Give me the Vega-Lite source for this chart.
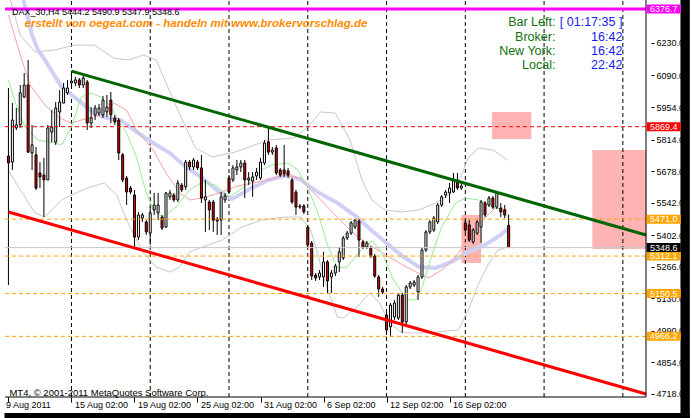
{
  "$schema": "https://vega.github.io/schema/vega-lite/v6.json",
  "width": 651,
  "height": 397,
  "autosize": {"type": "none"},
  "padding": {"left": 0, "top": 0, "right": 41, "bottom": 21},
  "background": "white",
  "config": {
    "view": {"stroke": null, "fill": "white"},
    "font": "Liberation Sans",
    "axis": {"labelFont": "Liberation Sans", "labelFontSize": 9, "labelColor": "black", "tickColor": "black", "domain": false, "grid": false, "labelOverlap": false, "labelSeparation": 0}
  },
  "datasets": {
    "candles": [
      {"i":0,"o":5743,"h":6036,"l":5187,"c":5713},
      {"i":1,"o":5717,"h":5972,"l":5683,"c":5898},
      {"i":2,"o":5864,"h":5950,"l":5855,"c":5877},
      {"i":3,"o":5877,"h":6049,"l":5864,"c":6015},
      {"i":4,"o":5997,"h":6101,"l":5993,"c":6049},
      {"i":5,"o":6049,"h":6157,"l":5756,"c":5760},
      {"i":6,"o":5756,"h":5877,"l":5683,"c":5791},
      {"i":7,"o":5748,"h":5782,"l":5597,"c":5605},
      {"i":8,"o":5670,"h":5717,"l":5605,"c":5653},
      {"i":9,"o":5661,"h":5735,"l":5480,"c":5640},
      {"i":10,"o":5640,"h":5877,"l":5640,"c":5864},
      {"i":11,"o":5846,"h":5941,"l":5803,"c":5868},
      {"i":12,"o":5803,"h":5976,"l":5791,"c":5950},
      {"i":13,"o":5933,"h":6027,"l":5868,"c":5976},
      {"i":14,"o":5971,"h":6058,"l":5971,"c":6036},
      {"i":15,"o":6015,"h":6071,"l":6006,"c":6036},
      {"i":16,"o":6058,"h":6109,"l":6049,"c":6066},
      {"i":17,"o":6058,"h":6084,"l":6045,"c":6071},
      {"i":18,"o":6071,"h":6079,"l":6036,"c":6049},
      {"i":19,"o":6049,"h":6088,"l":6036,"c":6079},
      {"i":20,"o":6062,"h":6071,"l":5855,"c":5885},
      {"i":21,"o":5885,"h":5954,"l":5864,"c":5907},
      {"i":22,"o":5920,"h":5963,"l":5898,"c":5950},
      {"i":23,"o":5928,"h":5967,"l":5916,"c":5950},
      {"i":24,"o":5920,"h":6002,"l":5907,"c":5984},
      {"i":25,"o":5933,"h":6006,"l":5911,"c":5954},
      {"i":26,"o":5984,"h":6019,"l":5885,"c":5920},
      {"i":27,"o":5907,"h":5920,"l":5877,"c":5890},
      {"i":28,"o":5898,"h":5907,"l":5726,"c":5756},
      {"i":29,"o":5748,"h":5756,"l":5631,"c":5640},
      {"i":30,"o":5648,"h":5657,"l":5532,"c":5588},
      {"i":31,"o":5605,"h":5614,"l":5579,"c":5588},
      {"i":32,"o":5575,"h":5597,"l":5351,"c":5394},
      {"i":33,"o":5394,"h":5502,"l":5381,"c":5489},
      {"i":34,"o":5476,"h":5498,"l":5459,"c":5489},
      {"i":35,"o":5459,"h":5467,"l":5403,"c":5416},
      {"i":36,"o":5411,"h":5523,"l":5360,"c":5498},
      {"i":37,"o":5511,"h":5584,"l":5489,"c":5532},
      {"i":38,"o":5498,"h":5584,"l":5467,"c":5532},
      {"i":39,"o":5480,"h":5489,"l":5424,"c":5433},
      {"i":40,"o":5437,"h":5588,"l":5433,"c":5584},
      {"i":41,"o":5567,"h":5597,"l":5554,"c":5584},
      {"i":42,"o":5575,"h":5584,"l":5545,"c":5554},
      {"i":43,"o":5554,"h":5640,"l":5545,"c":5627},
      {"i":44,"o":5618,"h":5627,"l":5588,"c":5597},
      {"i":45,"o":5610,"h":5726,"l":5597,"c":5717},
      {"i":46,"o":5717,"h":5726,"l":5683,"c":5696},
      {"i":47,"o":5696,"h":5735,"l":5683,"c":5726},
      {"i":48,"o":5717,"h":5726,"l":5683,"c":5692},
      {"i":49,"o":5692,"h":5748,"l":5541,"c":5562},
      {"i":50,"o":5554,"h":5640,"l":5416,"c":5567},
      {"i":51,"o":5545,"h":5554,"l":5424,"c":5511},
      {"i":52,"o":5545,"h":5554,"l":5416,"c":5467},
      {"i":53,"o":5472,"h":5480,"l":5403,"c":5463},
      {"i":54,"o":5467,"h":5588,"l":5403,"c":5567},
      {"i":55,"o":5554,"h":5584,"l":5541,"c":5571},
      {"i":56,"o":5648,"h":5661,"l":5584,"c":5588},
      {"i":57,"o":5640,"h":5704,"l":5631,"c":5692},
      {"i":58,"o":5683,"h":5726,"l":5661,"c":5696},
      {"i":59,"o":5696,"h":5726,"l":5674,"c":5713},
      {"i":60,"o":5713,"h":5726,"l":5562,"c":5640},
      {"i":61,"o":5640,"h":5674,"l":5618,"c":5648},
      {"i":62,"o":5635,"h":5674,"l":5567,"c":5653},
      {"i":63,"o":5657,"h":5692,"l":5640,"c":5674},
      {"i":64,"o":5648,"h":5735,"l":5640,"c":5717},
      {"i":65,"o":5713,"h":5812,"l":5704,"c":5799},
      {"i":66,"o":5804,"h":5868,"l":5748,"c":5760},
      {"i":67,"o":5760,"h":5782,"l":5748,"c":5769},
      {"i":68,"o":5778,"h":5791,"l":5661,"c":5670},
      {"i":69,"o":5683,"h":5691,"l":5653,"c":5661},
      {"i":70,"o":5683,"h":5791,"l":5653,"c":5666},
      {"i":71,"o":5679,"h":5691,"l":5648,"c":5661},
      {"i":72,"o":5640,"h":5648,"l":5536,"c":5545},
      {"i":73,"o":5588,"h":5597,"l":5489,"c":5523},
      {"i":74,"o":5523,"h":5536,"l":5515,"c":5528},
      {"i":75,"o":5528,"h":5536,"l":5493,"c":5502},
      {"i":76,"o":5437,"h":5446,"l":5351,"c":5360},
      {"i":77,"o":5368,"h":5377,"l":5209,"c":5226},
      {"i":78,"o":5230,"h":5239,"l":5205,"c":5218},
      {"i":79,"o":5222,"h":5252,"l":5209,"c":5239},
      {"i":80,"o":5222,"h":5330,"l":5179,"c":5287},
      {"i":81,"o":5287,"h":5295,"l":5153,"c":5205},
      {"i":82,"o":5222,"h":5252,"l":5153,"c":5239},
      {"i":83,"o":5239,"h":5278,"l":5226,"c":5269},
      {"i":84,"o":5287,"h":5351,"l":5243,"c":5330},
      {"i":85,"o":5304,"h":5399,"l":5295,"c":5390},
      {"i":86,"o":5390,"h":5420,"l":5381,"c":5411},
      {"i":87,"o":5411,"h":5463,"l":5403,"c":5455},
      {"i":88,"o":5437,"h":5472,"l":5429,"c":5467},
      {"i":89,"o":5463,"h":5472,"l":5308,"c":5381},
      {"i":90,"o":5373,"h":5381,"l":5343,"c":5351},
      {"i":91,"o":5351,"h":5377,"l":5343,"c":5368},
      {"i":92,"o":5347,"h":5355,"l":5304,"c":5312},
      {"i":93,"o":5312,"h":5321,"l":5218,"c":5226},
      {"i":94,"o":5222,"h":5231,"l":5136,"c":5170},
      {"i":95,"o":5170,"h":5179,"l":5149,"c":5157},
      {"i":96,"o":5058,"h":5067,"l":4972,"c":4994},
      {"i":97,"o":5007,"h":5110,"l":4963,"c":5101},
      {"i":98,"o":5050,"h":5123,"l":5037,"c":5110},
      {"i":99,"o":5045,"h":5153,"l":5037,"c":5144},
      {"i":100,"o":5144,"h":5153,"l":4981,"c":5028},
      {"i":101,"o":5028,"h":5187,"l":5019,"c":5179},
      {"i":102,"o":5179,"h":5205,"l":5170,"c":5196},
      {"i":103,"o":5187,"h":5209,"l":5179,"c":5200},
      {"i":104,"o":5157,"h":5231,"l":5123,"c":5222},
      {"i":105,"o":5222,"h":5347,"l":5213,"c":5338},
      {"i":106,"o":5338,"h":5424,"l":5330,"c":5416},
      {"i":107,"o":5416,"h":5467,"l":5407,"c":5459},
      {"i":108,"o":5424,"h":5485,"l":5416,"c":5476},
      {"i":109,"o":5459,"h":5541,"l":5450,"c":5532},
      {"i":110,"o":5532,"h":5575,"l":5523,"c":5567},
      {"i":111,"o":5575,"h":5597,"l":5562,"c":5588},
      {"i":112,"o":5584,"h":5627,"l":5541,"c":5605},
      {"i":113,"o":5588,"h":5670,"l":5584,"c":5640},
      {"i":114,"o":5640,"h":5670,"l":5597,"c":5605},
      {"i":115,"o":5605,"h":5623,"l":5597,"c":5614},
      {"i":116,"o":5455,"h":5467,"l":5416,"c":5424},
      {"i":117,"o":5446,"h":5467,"l":5373,"c":5381},
      {"i":118,"o":5373,"h":5433,"l":5364,"c":5424},
      {"i":119,"o":5411,"h":5467,"l":5403,"c":5459},
      {"i":120,"o":5437,"h":5554,"l":5368,"c":5545},
      {"i":121,"o":5541,"h":5549,"l":5480,"c":5489},
      {"i":122,"o":5532,"h":5571,"l":5523,"c":5562},
      {"i":123,"o":5562,"h":5571,"l":5515,"c":5523},
      {"i":124,"o":5523,"h":5592,"l":5515,"c":5584},
      {"i":125,"o":5519,"h":5541,"l":5480,"c":5502},
      {"i":126,"o":5511,"h":5532,"l":5476,"c":5489},
      {"i":127,"o":5444.2,"h":5490.9,"l":5347.9,"c":5348.6}
    ],
    "ind": [
      {"s":"bl","i":3.75,"p":6415},{"s":"bl","i":4.5,"p":6372},{"s":"bl","i":6,"p":6264},{"s":"bl","i":7.5,"p":6200},{"s":"bl","i":9.25,"p":6157},{"s":"bl","i":13.5,"p":6040},{"s":"bl","i":16.75,"p":5997},{"s":"bl","i":21.75,"p":5928},{"s":"bl","i":25,"p":5907},{"s":"bl","i":28.5,"p":5898},{"s":"bl","i":32.5,"p":5847},{"s":"bl","i":36.75,"p":5799},{"s":"bl","i":41,"p":5756},{"s":"bl","i":45,"p":5696},{"s":"bl","i":49.25,"p":5648},{"s":"bl","i":53.5,"p":5588},{"s":"bl","i":56.75,"p":5558},{"s":"bl","i":61.75,"p":5605},{"s":"bl","i":66,"p":5640},{"s":"bl","i":71,"p":5661},{"s":"bl","i":74.25,"p":5640},{"s":"bl","i":78.5,"p":5588},{"s":"bl","i":83.5,"p":5541},{"s":"bl","i":88.5,"p":5480},{"s":"bl","i":91.75,"p":5429},{"s":"bl","i":96,"p":5368},{"s":"bl","i":100,"p":5312},{"s":"bl","i":104.25,"p":5265},{"s":"bl","i":108.5,"p":5261},{"s":"bl","i":112.5,"p":5287},{"s":"bl","i":116.75,"p":5330},{"s":"bl","i":121,"p":5360},{"s":"bl","i":125,"p":5403},{"s":"bl","i":127,"p":5433},
      {"s":"pk","i":0,"p":6351},{"s":"pk","i":3,"p":6178},{"s":"pk","i":5.5,"p":6049},{"s":"pk","i":9.25,"p":5963},{"s":"pk","i":13,"p":5907},{"s":"pk","i":16,"p":5885},{"s":"pk","i":18.5,"p":5898},{"s":"pk","i":23.5,"p":5920},{"s":"pk","i":26.75,"p":5971},{"s":"pk","i":30,"p":5941},{"s":"pk","i":32.5,"p":5855},{"s":"pk","i":36.75,"p":5769},{"s":"pk","i":40,"p":5670},{"s":"pk","i":43.5,"p":5584},{"s":"pk","i":46,"p":5554},{"s":"pk","i":49.25,"p":5562},{"s":"pk","i":54.25,"p":5588},{"s":"pk","i":57.5,"p":5610},{"s":"pk","i":61.75,"p":5627},{"s":"pk","i":66,"p":5640},{"s":"pk","i":70,"p":5661},{"s":"pk","i":74.25,"p":5648},{"s":"pk","i":76.75,"p":5597},{"s":"pk","i":80,"p":5541},{"s":"pk","i":84.25,"p":5467},{"s":"pk","i":87.5,"p":5411},{"s":"pk","i":91,"p":5368},{"s":"pk","i":95,"p":5325},{"s":"pk","i":99.25,"p":5282},{"s":"pk","i":103.5,"p":5243},{"s":"pk","i":106.75,"p":5218},{"s":"pk","i":110,"p":5252},{"s":"pk","i":113.5,"p":5308},{"s":"pk","i":116,"p":5368},{"s":"pk","i":119.25,"p":5446},{"s":"pk","i":123.5,"p":5519},{"s":"pk","i":126.75,"p":5511},
      {"s":"gr","i":0,"p":6071},{"s":"gr","i":1.75,"p":5972},{"s":"gr","i":4.25,"p":5868},{"s":"gr","i":7.5,"p":5812},{"s":"gr","i":11.75,"p":5799},{"s":"gr","i":13.5,"p":5791},{"s":"gr","i":16,"p":5868},{"s":"gr","i":18.5,"p":5997},{"s":"gr","i":21,"p":6015},{"s":"gr","i":23.5,"p":5997},{"s":"gr","i":26,"p":5954},{"s":"gr","i":27.5,"p":5911},{"s":"gr","i":30,"p":5842},{"s":"gr","i":32.5,"p":5739},{"s":"gr","i":35,"p":5584},{"s":"gr","i":36.75,"p":5511},{"s":"gr","i":39.25,"p":5480},{"s":"gr","i":42.5,"p":5523},{"s":"gr","i":46,"p":5597},{"s":"gr","i":49.25,"p":5631},{"s":"gr","i":52.5,"p":5618},{"s":"gr","i":56,"p":5567},{"s":"gr","i":60,"p":5610},{"s":"gr","i":64.25,"p":5683},{"s":"gr","i":66.75,"p":5704},{"s":"gr","i":71,"p":5713},{"s":"gr","i":73.5,"p":5683},{"s":"gr","i":76,"p":5605},{"s":"gr","i":78.5,"p":5502},{"s":"gr","i":81,"p":5360},{"s":"gr","i":83.5,"p":5261},{"s":"gr","i":86,"p":5265},{"s":"gr","i":88.5,"p":5317},{"s":"gr","i":91,"p":5364},{"s":"gr","i":92.5,"p":5377},{"s":"gr","i":95,"p":5321},{"s":"gr","i":97.5,"p":5218},{"s":"gr","i":100,"p":5153},{"s":"gr","i":101.75,"p":5123},{"s":"gr","i":103.5,"p":5123},{"s":"gr","i":105,"p":5175},{"s":"gr","i":107.5,"p":5317},{"s":"gr","i":110,"p":5437},{"s":"gr","i":113.5,"p":5541},{"s":"gr","i":116,"p":5562},{"s":"gr","i":119.25,"p":5554},{"s":"gr","i":121.75,"p":5532},{"s":"gr","i":125,"p":5511},{"s":"gr","i":127,"p":5476},
      {"s":"bbu","i":0.5,"p":6415},{"s":"bbu","i":3,"p":6264},{"s":"bbu","i":6.75,"p":6191},{"s":"bbu","i":11.75,"p":6200},{"s":"bbu","i":16.75,"p":6221},{"s":"bbu","i":21.75,"p":6221},{"s":"bbu","i":26.75,"p":6165},{"s":"bbu","i":30.5,"p":6157},{"s":"bbu","i":34.25,"p":6178},{"s":"bbu","i":37.5,"p":6157},{"s":"bbu","i":43,"p":5941},{"s":"bbu","i":47.5,"p":5778},{"s":"bbu","i":51.75,"p":5739},{"s":"bbu","i":57.5,"p":5760},{"s":"bbu","i":66,"p":5812},{"s":"bbu","i":72.5,"p":5821},{"s":"bbu","i":76,"p":5868},{"s":"bbu","i":79.25,"p":5933},{"s":"bbu","i":83,"p":5928},{"s":"bbu","i":86.75,"p":5812},{"s":"bbu","i":89.75,"p":5640},{"s":"bbu","i":92.25,"p":5554},{"s":"bbu","i":95.5,"p":5511},{"s":"bbu","i":100,"p":5502},{"s":"bbu","i":104.25,"p":5511},{"s":"bbu","i":108.5,"p":5541},{"s":"bbu","i":112.5,"p":5584},{"s":"bbu","i":114.75,"p":5648},{"s":"bbu","i":116.75,"p":5735},{"s":"bbu","i":119.25,"p":5778},{"s":"bbu","i":123,"p":5769},{"s":"bbu","i":126.75,"p":5726},
      {"s":"bbl","i":0,"p":5683},{"s":"bbl","i":2.5,"p":5610},{"s":"bbl","i":6.75,"p":5498},{"s":"bbl","i":9.25,"p":5480},{"s":"bbl","i":13.5,"p":5554},{"s":"bbl","i":16,"p":5575},{"s":"bbl","i":20,"p":5605},{"s":"bbl","i":24.25,"p":5627},{"s":"bbl","i":27.5,"p":5575},{"s":"bbl","i":30,"p":5467},{"s":"bbl","i":34.25,"p":5325},{"s":"bbl","i":37.5,"p":5265},{"s":"bbl","i":41,"p":5243},{"s":"bbl","i":43.5,"p":5265},{"s":"bbl","i":46,"p":5330},{"s":"bbl","i":49.25,"p":5351},{"s":"bbl","i":54.25,"p":5381},{"s":"bbl","i":59.25,"p":5437},{"s":"bbl","i":64.25,"p":5467},{"s":"bbl","i":70,"p":5480},{"s":"bbl","i":74.25,"p":5480},{"s":"bbl","i":76.75,"p":5424},{"s":"bbl","i":78.5,"p":5325},{"s":"bbl","i":80,"p":5222},{"s":"bbl","i":81.75,"p":5136},{"s":"bbl","i":83.5,"p":5050},{"s":"bbl","i":85,"p":5045},{"s":"bbl","i":88.5,"p":5093},{"s":"bbl","i":91.75,"p":5153},{"s":"bbl","i":94.25,"p":5110},{"s":"bbl","i":96.75,"p":5024},{"s":"bbl","i":100,"p":4981},{"s":"bbl","i":103.5,"p":4981},{"s":"bbl","i":106.75,"p":4981},{"s":"bbl","i":114.25,"p":4994},{"s":"bbl","i":116.75,"p":5080},{"s":"bbl","i":119.25,"p":5188},{"s":"bbl","i":121.75,"p":5274},{"s":"bbl","i":124.25,"p":5338},{"s":"bbl","i":126.75,"p":5351}
    ],
    "boxes": [
      {"p":6376.7,"t":"6376.7","k":"mag"},{"p":5869.4,"t":"5869.4","k":"red"},{"p":5471.0,"t":"5471.0","k":"org"},
      {"p":5348.6,"t":"5348.6","k":"blk"},{"p":5312.1,"t":"5312.1","k":"org"},{"p":5150.5,"t":"5150.5","k":"org"},{"p":4966.2,"t":"4966.2","k":"org"}
    ]
  },
  "layer": [
    {
      "data": {"values": [{"i1": 170.625, "i2": 173, "p1": 6430, "p2": 4600}, {"i1": -1, "i2": 173, "p1": 4636, "p2": 4600}]},
      "mark": {"type": "rect", "color": "black", "clip": false},
      "encoding": {
        "x": {"field": "i1", "type": "quantitative", "title": null, "scale": {"type": "linear", "domain": [-0.875, 161.875], "nice": false, "zero": false},
          "axis": {"orient": "bottom", "zindex": 0, "tickCount": 20, "values": [0,16,32,48,64,80,96,112], "labelExpr": "['9 Aug 2011','15 Aug 02:00','19 Aug 02:00','25 Aug 02:00','31 Aug 02:00','6 Sep 02:00','12 Sep 02:00','16 Sep 02:00'][round(datum.value/16)]", "labelAlign": "left", "labelBaseline": "top", "labelOffset": {"condition": {"test": "datum.value == 0", "value": -3}, "value": 3}, "tickSize": 5, "labelPadding": -2, "labelFlush": false, "labelOverlap": false, "labelColor": "black", "tickColor": "black", "title": null, "grid": false, "domain": false}},
        "x2": {"field": "i2"},
        "y": {"field": "p1", "type": "quantitative", "title": null, "scale": {"type": "linear", "domain": [4704.9, 6415.2], "nice": false, "zero": false},
          "axis": {"orient": "right", "zindex": 0, "tickCount": 30, "values": [6230,6090,5954,5814,5678,5542,5402,5266,5130,4990,4854,4718], "format": ".1f", "tickSize": 3, "labelPadding": 2, "labelFlush": false, "labelOverlap": false, "labelColor": "black", "tickColor": "black", "title": null, "grid": false, "domain": false}},
        "y2": {"field": "p2"}
      }
    },
    {
      "data": {"values": [
        {"i1":122.75,"i2":132.75,"p1":5933,"p2":5816},
        {"i1":148.25,"i2":162,"p1":5769,"p2":5343},
        {"i1":115,"i2":120,"p1":5489,"p2":5282}
      ]},
      "mark": {"type": "rect", "color": "#ffb4b4"},
      "encoding": {
        "x": {"field": "i1", "type": "quantitative", "title": null},
        "x2": {"field": "i2"},
        "y": {"field": "p1", "type": "quantitative", "title": null},
        "y2": {"field": "p2"}
      }
    },
    {
      "data": {"values": [{"i":16},{"i":36},{"i":56},{"i":76},{"i":96},{"i":116},{"i":136},{"i":156}]},
      "mark": {"type": "rule", "color": "black", "strokeWidth": 1, "strokeDash": [4, 3]},
      "encoding": {
        "x": {"field": "i", "type": "quantitative", "title": null},
        "y": {"datum": 4704.9, "type": "quantitative", "title": null},
        "y2": {"datum": 6415.2}
      }
    },
    {
      "data": {"name": "ind"},
      "transform": [{"filter": "datum.s == 'bbu' || datum.s == 'bbl'"}],
      "mark": {"type": "line", "strokeWidth": 1, "color": "#c8c8c8", "clip": true},
      "encoding": {
        "x": {"field": "i", "type": "quantitative", "title": null},
        "y": {"field": "p", "type": "quantitative", "title": null},
        "detail": {"field": "s", "type": "nominal"}
      }
    },
    {
      "data": {"name": "ind"},
      "transform": [{"filter": "datum.s == 'bl'"}],
      "mark": {"type": "line", "strokeWidth": 4, "color": "#d0d0f6", "clip": true},
      "encoding": {
        "x": {"field": "i", "type": "quantitative", "title": null},
        "y": {"field": "p", "type": "quantitative", "title": null}
      }
    },
    {
      "data": {"name": "ind"},
      "transform": [{"filter": "datum.s == 'pk'"}],
      "mark": {"type": "line", "strokeWidth": 1, "color": "#f4a3a3", "clip": true},
      "encoding": {
        "x": {"field": "i", "type": "quantitative", "title": null},
        "y": {"field": "p", "type": "quantitative", "title": null}
      }
    },
    {
      "data": {"name": "ind"},
      "transform": [{"filter": "datum.s == 'gr'"}],
      "mark": {"type": "line", "strokeWidth": 1, "color": "#98ea98", "clip": true},
      "encoding": {
        "x": {"field": "i", "type": "quantitative", "title": null},
        "y": {"field": "p", "type": "quantitative", "title": null}
      }
    },
    {
      "data": {"name": "candles"},
      "mark": {"type": "rule", "color": "black", "strokeWidth": 1},
      "encoding": {
        "x": {"field": "i", "type": "quantitative", "title": null},
        "y": {"field": "l", "type": "quantitative", "title": null},
        "y2": {"field": "h"}
      }
    },
    {
      "data": {"name": "candles"},
      "mark": {"type": "bar", "orient": "vertical", "size": 2, "stroke": "black", "strokeWidth": 1},
      "encoding": {
        "x": {"field": "i", "type": "quantitative", "title": null},
        "y": {"field": "o", "type": "quantitative", "title": null},
        "y2": {"field": "c"},
        "fill": {"condition": {"test": "datum.c < datum.o", "value": "#e00000"}, "value": "white"}
      }
    },
    {
      "data": {"values": [{"p":5869.4}]},
      "mark": {"type": "rule", "strokeWidth": 1, "strokeDash": [4, 3], "color": "#ff0000"},
      "encoding": {
        "y": {"field": "p", "type": "quantitative", "title": null},
        "x": {"datum": -0.875, "type": "quantitative", "title": null},
        "x2": {"datum": 161.875}
      }
    },
    {
      "data": {"values": [{"p":5471.0},{"p":5312.1},{"p":5150.5},{"p":4966.2}]},
      "mark": {"type": "rule", "strokeWidth": 1, "strokeDash": [4, 3], "color": "#ffa500"},
      "encoding": {
        "y": {"field": "p", "type": "quantitative", "title": null},
        "x": {"datum": -0.875, "type": "quantitative", "title": null},
        "x2": {"datum": 161.875}
      }
    },
    {
      "data": {"values": [{"p":5348.6}]},
      "mark": {"type": "rule", "strokeWidth": 1, "color": "#c8c8c8"},
      "encoding": {
        "y": {"field": "p", "type": "quantitative", "title": null},
        "x": {"datum": -0.875, "type": "quantitative", "title": null},
        "x2": {"datum": 161.875}
      }
    },
    {
      "data": {"values": [{"p":6376.7}]},
      "mark": {"type": "rule", "strokeWidth": 3, "color": "#ff00ff"},
      "encoding": {
        "y": {"field": "p", "type": "quantitative", "title": null},
        "x": {"datum": -0.875, "type": "quantitative", "title": null},
        "x2": {"datum": 161.875}
      }
    },
    {
      "data": {"values": [{"i":16,"p":6109},{"i":161.875,"p":5403}]},
      "mark": {"type": "line", "strokeWidth": 3, "color": "#006400"},
      "encoding": {
        "x": {"field": "i", "type": "quantitative", "title": null},
        "y": {"field": "p", "type": "quantitative", "title": null}
      }
    },
    {
      "data": {"values": [{"i":0,"p":5502},{"i":161.875,"p":4718}]},
      "mark": {"type": "line", "strokeWidth": 3, "color": "#ff0000"},
      "encoding": {
        "x": {"field": "i", "type": "quantitative", "title": null},
        "y": {"field": "p", "type": "quantitative", "title": null}
      }
    },
    {
      "data": {"values": [{"i":161.875}]},
      "mark": {"type": "rule", "color": "black", "strokeWidth": 1},
      "encoding": {
        "x": {"field": "i", "type": "quantitative", "title": null},
        "y": {"datum": 4704.9, "type": "quantitative", "title": null},
        "y2": {"datum": 6415.2}
      }
    },
    {
      "data": {"values": [{"p":4704.9}]},
      "mark": {"type": "rule", "color": "black", "strokeWidth": 1},
      "encoding": {
        "y": {"field": "p", "type": "quantitative", "title": null},
        "x": {"datum": -0.875, "type": "quantitative", "title": null},
        "x2": {"datum": 161.875}
      }
    },
    {
      "data": {"name": "boxes"},
      "transform": [{"filter": "datum.k == 'mag'"}],
      "mark": {"type": "tick", "orient": "horizontal", "size": 34, "thickness": 9, "opacity": 1, "color": "#ff00ff"},
      "encoding": {
        "x": {"datum": 166.375, "type": "quantitative", "title": null},
        "y": {"field": "p", "type": "quantitative", "title": null}
      }
    },
    {
      "data": {"name": "boxes"},
      "transform": [{"filter": "datum.k == 'red'"}],
      "mark": {"type": "tick", "orient": "horizontal", "size": 34, "thickness": 9, "opacity": 1, "color": "#ff0000"},
      "encoding": {
        "x": {"datum": 166.375, "type": "quantitative", "title": null},
        "y": {"field": "p", "type": "quantitative", "title": null}
      }
    },
    {
      "data": {"name": "boxes"},
      "transform": [{"filter": "datum.k == 'org'"}],
      "mark": {"type": "tick", "orient": "horizontal", "size": 34, "thickness": 9, "opacity": 1, "color": "#ffa500"},
      "encoding": {
        "x": {"datum": 166.375, "type": "quantitative", "title": null},
        "y": {"field": "p", "type": "quantitative", "title": null}
      }
    },
    {
      "data": {"name": "boxes"},
      "transform": [{"filter": "datum.k == 'blk'"}],
      "mark": {"type": "tick", "orient": "horizontal", "size": 34, "thickness": 9, "opacity": 1, "color": "#000000"},
      "encoding": {
        "x": {"datum": 166.375, "type": "quantitative", "title": null},
        "y": {"field": "p", "type": "quantitative", "title": null}
      }
    },
    {
      "data": {"name": "boxes"},
      "mark": {"type": "text", "fontSize": 9, "color": "white", "align": "center", "baseline": "middle", "font": "Liberation Sans"},
      "encoding": {
        "x": {"datum": 166.375, "type": "quantitative", "title": null},
        "y": {"field": "p", "type": "quantitative", "title": null},
        "text": {"field": "t"}
      }
    },
    {
      "data": {"values": [{"i":0.9,"p":6380.7,"t":"DAX_30,H4  5444.2 5490.9 5347.9 5348.6"}]},
      "mark": {"type": "text", "fontSize": 9, "color": "black", "align": "left", "baseline": "top", "font": "Liberation Sans"},
      "encoding": {
        "x": {"field": "i", "type": "quantitative", "title": null},
        "y": {"field": "p", "type": "quantitative", "title": null},
        "text": {"field": "t"}
      }
    },
    {
      "data": {"values": [{"i":0.25,"p":4709.2,"t":"MT4, © 2001-2011 MetaQuotes Software Corp."}]},
      "mark": {"type": "text", "fontSize": 9.5, "color": "black", "align": "left", "baseline": "alphabetic", "font": "Liberation Sans"},
      "encoding": {
        "x": {"field": "i", "type": "quantitative", "title": null},
        "y": {"field": "p", "type": "quantitative", "title": null},
        "text": {"field": "t"}
      }
    },
    {
      "data": {"values": [{"i":4.1,"p":6299,"t":"erstellt von oegeat.com - handeln mit www.brokervorschlag.de"}]},
      "mark": {"type": "text", "fontSize": 11.5, "fontWeight": "bold", "fontStyle": "italic", "color": "#ff8c00", "align": "left", "baseline": "alphabetic", "font": "Liberation Sans"},
      "encoding": {
        "x": {"field": "i", "type": "quantitative", "title": null},
        "y": {"field": "p", "type": "quantitative", "title": null},
        "text": {"field": "t"}
      }
    },
    {
      "data": {"values": [{"i":138.875,"p":6303.2,"t":"Bar Left:"},{"i":138.875,"p":6240.7,"t":"Broker:"},{"i":138.875,"p":6178.3,"t":"New York:"},{"i":138.875,"p":6115.8,"t":"Local:"}]},
      "mark": {"type": "text", "fontSize": 12.5, "color": "#107010", "align": "right", "baseline": "alphabetic", "font": "Liberation Sans"},
      "encoding": {
        "x": {"field": "i", "type": "quantitative", "title": null},
        "y": {"field": "p", "type": "quantitative", "title": null},
        "text": {"field": "t"}
      }
    },
    {
      "data": {"values": [{"i":155.875,"p":6303.2,"t":"[ 01:17:35 ]"},{"i":155.875,"p":6240.7,"t":"16:42"},{"i":155.875,"p":6178.3,"t":"16:42"},{"i":155.875,"p":6115.8,"t":"22:42"}]},
      "mark": {"type": "text", "fontSize": 12.5, "color": "#1a1aee", "align": "right", "baseline": "alphabetic", "font": "Liberation Sans"},
      "encoding": {
        "x": {"field": "i", "type": "quantitative", "title": null},
        "y": {"field": "p", "type": "quantitative", "title": null},
        "text": {"field": "t"}
      }
    }
  ]
}
